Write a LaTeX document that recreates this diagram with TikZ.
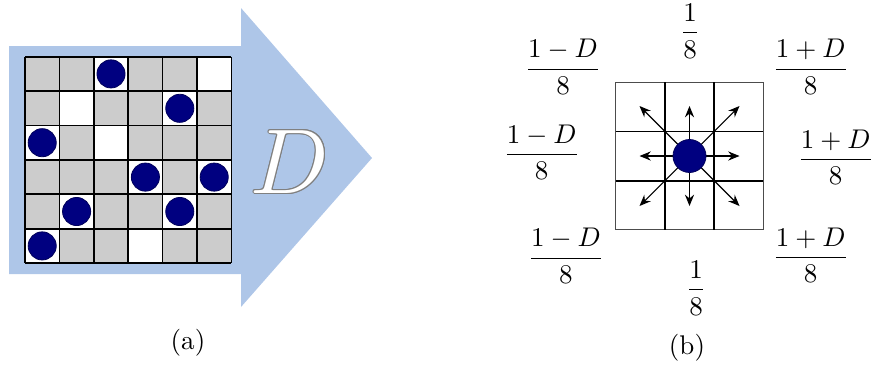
\documentclass[tikz,border=0pt]{standalone}
\usepackage{amsmath, amssymb}
\usepackage{tikz}
\usetikzlibrary{calc, arrows.meta}
\definecolor{dot-navy}{RGB}{0,0,128}
\definecolor{arrow-blue}{RGB}{174,198,232}
\definecolor{cell-gray}{RGB}{204,204,204}

\begin{document}
\begin{tikzpicture}[x=0.37pt, y=-0.37pt,
  cellline/.style={line width=0.6pt},
  particle/.style={circle, inner sep=0pt, fill=dot-navy,
    draw=dot-navy!70!black, line width=0.3pt},
  hop/.style={-{Stealth[length=4.2pt, width=3.4pt, inset=1.4pt]}, line width=0.4pt},
  prob/.style={inner sep=1pt}]
  \useasboundingbox (0,0) rectangle (872,369);

  % (a) Fleche de derive
  \fill[arrow-blue] (9,46) -- (241,46) -- (241,8) -- (372,158)
    -- (241,307) -- (241,274) -- (9,274) -- cycle;

  % Grille 6x6
  \def\cs{34.4}
  \fill[cell-gray] (25,56.7) rectangle ++(6*\cs,6*\cs);
  % Cases vides et cases occupees (fond blanc)
  \foreach \c/\r in {6/1, 2/2, 3/3, 4/6,
    3/1, 5/2, 1/3, 4/4, 6/4, 2/5, 5/5, 1/6}
    \fill[white] ({25+(\c-1)*\cs},{56.7+(\r-1)*\cs}) rectangle ++(\cs,\cs);
  \foreach \i in {0,...,6}{
    \draw[cellline] ({25+\i*\cs},56.7) -- ++(0,6*\cs);
    \draw[cellline] (25,{56.7+\i*\cs}) -- ++(6*\cs,0);
  }
  % Particules
  \foreach \c/\r in {3/1, 5/2, 1/3, 4/4, 6/4, 2/5, 5/5, 1/6}
    \node[particle, minimum size=10.4pt] (p\c\r)
      at ({25+(\c-0.5)*\cs},{56.7+(\r-0.5)*\cs}) {};

  % Lettre D (contour gris, interieur blanc)
  \foreach \a in {0,30,...,330}
    \path (290,162) ++(\a:0.3pt) node[scale=3.4, text=gray] {$D$};
  \node[scale=3.4, text=white] (drift) at (290,162) {$D$};

  \node (capa) at (188,343) {(a)};

  % (b) Grille 3x3
  \def\cb{49.2}
  \draw[line width=0.4pt, black!70] (615.7,82.3) rectangle ++(3*\cb,3*\cb);
  \foreach \i in {1,2}{
    \draw[cellline] ({615.7+\i*\cb},82.3) -- ++(0,3*\cb);
    \draw[cellline] (615.7,{82.3+\i*\cb}) -- ++(3*\cb,0);
  }
  \coordinate (c) at (689.5,156);
  % Sauts vers les 8 voisins
  \foreach \dx/\dy [count=\n] in {50/0, 50/-50, 0/-50, -50/-50,
    -50/0, -50/50, 0/50, 50/50}{
    \coordinate (m\n) at ($(c)+(\dx,\dy)$);
    \draw[hop] (c) -- (m\n);
  }
  \node[particle, minimum size=12.2pt] (walker) at (c) {};

  % Probabilites de saut
  \node[prob] (pN)  at (690,31)    {$\dfrac{1}{8}$};
  \node[prob] (pS)  at (696,288)   {$\dfrac{1}{8}$};
  \node[prob] (pNW) at (563,66.7)  {$\dfrac{1-D}{8}$};
  \node[prob] (pW)  at (541.7,152.3) {$\dfrac{1-D}{8}$};
  \node[prob] (pSW) at (566,256)   {$\dfrac{1-D}{8}$};
  \node[prob] (pNE) at (810.7,66.7) {$\dfrac{1+D}{8}$};
  \node[prob] (pE)  at (835.7,157.3) {$\dfrac{1+D}{8}$};
  \node[prob] (pSE) at (810.7,255.3) {$\dfrac{1+D}{8}$};

  \node (capb) at (687,348) {(b)};
\end{tikzpicture}
\end{document}
